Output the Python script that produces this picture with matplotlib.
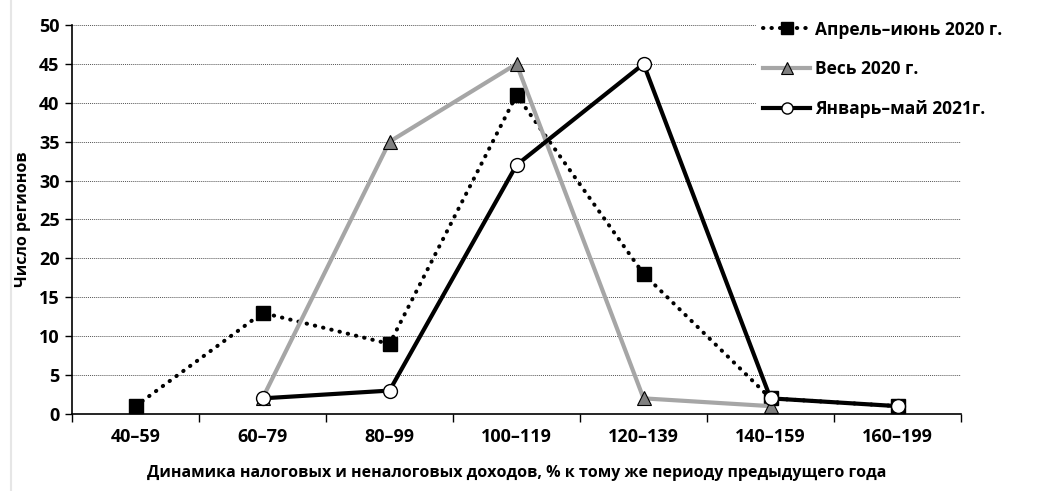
import matplotlib.pyplot as plt
from matplotlib.lines import Line2D

plt.rcParams['font.family'] = ['Open Sans', 'DejaVu Sans']
plt.rcParams['font.weight'] = 'bold'

# --- data ---
categories = ['40\u201359', '60\u201379', '80\u201399', '100\u2013119',
              '120\u2013139', '140\u2013159', '160\u2013199']
apr_jun_2020 = [1, 13, 9, 41, 18, 2, 1]
year_2020 = [None, 2, 35, 45, 2, 1, None]
jan_may_2021 = [None, 2, 3, 32, 45, 2, 1]

labels = ['Апрель\u2013июнь 2020 г.', 'Весь 2020 г.', 'Январь\u2013май 2021г.']


def xy(values):
    xs = [i for i, v in enumerate(values) if v is not None]
    ys = [v for v in values if v is not None]
    return xs, ys


fig = plt.figure(figsize=(10.59, 4.91), dpi=100)
ax = fig.add_axes([0.068, 0.157, 0.8395, 0.792])

# faint page edge on the left
fig.add_artist(Line2D([0.01, 0.01], [0.0, 1.0], color='#e6e6e6', lw=1.5))

dot_style = (0, (0.1, 2.0))

x, y = xy(apr_jun_2020)
ax.plot(x, y, color='black', lw=2.9, linestyle=dot_style,
        dash_capstyle='round', marker='s', markersize=10,
        markerfacecolor='black', markeredgecolor='black', zorder=3)
x, y = xy(year_2020)
ax.plot(x, y, color='#a6a6a6', lw=3, marker='^', markersize=10,
        markerfacecolor='#808080', markeredgecolor='black', markeredgewidth=0.8,
        zorder=4)
x, y = xy(jan_may_2021)
ax.plot(x, y, color='black', lw=3, marker='o', markersize=10,
        markerfacecolor='white', markeredgecolor='black', markeredgewidth=1,
        zorder=5)

ax.set_xlim(-0.5, len(categories) - 0.5)
ax.set_ylim(0, 50)
ax.set_yticks(range(0, 51, 5))
ax.set_xticks([i - 0.5 for i in range(len(categories) + 1)])
ax.set_xticklabels([])
ax.set_xticks(range(len(categories)), minor=True)
ax.set_xticklabels(categories, minor=True, fontsize=13, fontweight='bold')
ax.tick_params(axis='x', which='minor', length=0, pad=10)
ax.tick_params(axis='x', which='major', length=6, width=1, direction='out')
ax.tick_params(axis='y', length=5, width=1, labelsize=13, pad=4)
for t in ax.get_yticklabels():
    t.set_fontweight('bold')

ax.yaxis.grid(True, color='#555555', linestyle=(0, (1, 1)), lw=0.7)
ax.set_axisbelow(True)
for s in ['top', 'right']:
    ax.spines[s].set_visible(False)
ax.spines['left'].set_linewidth(1.2)
ax.spines['bottom'].set_linewidth(1.2)

ax.set_ylabel('Число регионов', fontsize=11.5, fontweight='bold', labelpad=6)
ax.set_xlabel('Динамика налоговых и неналоговых доходов, % к тому же периоду предыдущего года',
              fontsize=11.5, fontweight='bold', labelpad=14)

handles = [
    Line2D([], [], color='black', lw=2.9, linestyle=dot_style,
           dash_capstyle='round', marker='s', markersize=8,
           markerfacecolor='black'),
    Line2D([], [], color='#a6a6a6', lw=3, marker='^', markersize=8,
           markerfacecolor='#808080', markeredgecolor='black', markeredgewidth=0.8),
    Line2D([], [], color='black', lw=3, marker='o', markersize=8,
           markerfacecolor='white', markeredgecolor='black'),
]
leg = fig.legend(handles, labels, loc='upper left', bbox_to_anchor=(0.706, 0.99),
                 frameon=True, fancybox=False, edgecolor='white', framealpha=1,
                 fontsize=12.5, handlelength=2.7, handletextpad=0.3,
                 labelspacing=1.25, borderpad=0.4)
for t in leg.get_texts():
    t.set_fontweight('bold')

fig.savefig('out.png', dpi=100)
